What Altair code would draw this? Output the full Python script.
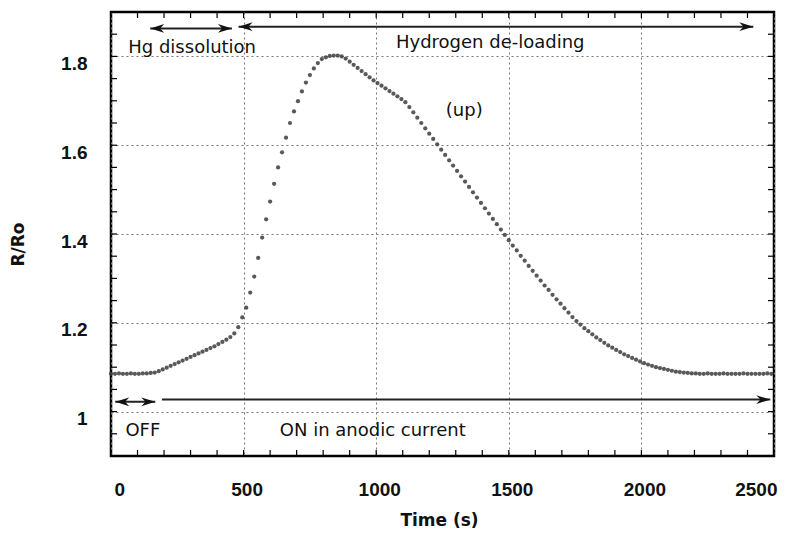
import altair as alt
import pandas as pd

# ---------------- data ----------------
# sampling times (s), one reading every 15 s
time_s = list(range(0, 2491, 15))

# R/Ro readings
r_ro = [
    # 0 - 165 s (OFF)
    1.085, 1.085, 1.086, 1.085, 1.085, 1.086, 1.085, 1.085, 1.086, 1.086, 1.087, 1.088,
    # 180 - 495 s (Hg dissolution)
    1.091, 1.095, 1.099, 1.103, 1.107, 1.111, 1.115, 1.119, 1.123, 1.127, 1.131, 1.135,
    1.139, 1.143, 1.147, 1.152, 1.157, 1.162, 1.168, 1.176, 1.190, 1.212,
    # 510 - 795 s (rise)
    1.234, 1.268, 1.304, 1.346, 1.392, 1.433, 1.473, 1.513, 1.550, 1.584, 1.617, 1.650,
    1.676, 1.699, 1.721, 1.741, 1.758, 1.773, 1.785, 1.794,
    # 810 - 870 s (peak)
    1.798, 1.801, 1.802, 1.802, 1.800,
    # 885 - 1110 s
    1.795, 1.788, 1.781, 1.774, 1.767, 1.760, 1.753, 1.746, 1.740, 1.734, 1.728, 1.722,
    1.716, 1.710, 1.704, 1.697,
    # 1125 - 1485 s
    1.686, 1.674, 1.662, 1.650, 1.638, 1.626, 1.614, 1.602, 1.590, 1.578, 1.566, 1.554,
    1.542, 1.530, 1.518, 1.506, 1.494, 1.482, 1.470, 1.458, 1.446, 1.434, 1.422, 1.410, 1.398,
    # 1500 - 2205 s
    1.386, 1.374, 1.363, 1.351, 1.340, 1.328, 1.317, 1.306, 1.295, 1.284, 1.274, 1.263,
    1.253, 1.243, 1.233, 1.223, 1.213, 1.204, 1.196, 1.188, 1.181, 1.174, 1.167, 1.161,
    1.155, 1.149, 1.144, 1.139, 1.134, 1.129, 1.125, 1.121, 1.117, 1.113, 1.109, 1.106,
    1.103, 1.100, 1.098, 1.096, 1.094, 1.092, 1.090, 1.089, 1.088, 1.087, 1.086, 1.086,
    # 2220 - 2490 s
    1.085, 1.085, 1.086, 1.085, 1.085, 1.085, 1.086, 1.085, 1.085, 1.085, 1.085, 1.086,
    1.085, 1.085, 1.085, 1.085, 1.085, 1.086, 1.085,
]

x_major = [0, 500, 1000, 1500, 2000, 2500]
y_major = [1, 1.2, 1.4, 1.6, 1.8]
x_minor = list(range(0, 2501, 100))
y_minor = [round(0.9 + 0.05 * i, 2) for i in range(21)]

# annotation texts
ann_text = ["Hg dissolution", "Hydrogen de-loading", "(up)", "OFF", "ON in anodic current"]
ann_t = [306, 1430, 1332, 120, 987]
ann_v = [1.808, 1.819, 1.666, 0.944, 0.945]

# arrow shafts
arr_t1 = [148, 481, 16, 192]
arr_t2 = [456, 2422, 167, 2486]
arr_v = [1.863, 1.867, 1.022, 1.027]

# arrow heads (tip positions)
head_t = [148, 456, 481, 2422, 16, 167, 2486]
head_v = [1.863, 1.863, 1.867, 1.867, 1.022, 1.022, 1.027]
head_dir = ["l", "r", "l", "r", "l", "r", "r"]

# ---------------- chart ----------------
W, H = 663, 444

df = pd.DataFrame([{"t": t, "v": v} for t, v in zip(time_s, r_ro)])
xt_df = pd.DataFrame({"t": x_minor})
yt_df = pd.DataFrame({"v": y_minor})
ann_df = pd.DataFrame({"label": ann_text, "t": ann_t, "v": ann_v})
arr_df = pd.DataFrame({"t": arr_t1, "t2": arr_t2, "v": arr_v})
head_df = pd.DataFrame({"t": head_t, "v": head_v, "dir": head_dir})

xs = alt.Scale(domain=[0, 2500], nice=False, zero=False)
ys = alt.Scale(domain=[0.9, 1.9], nice=False, zero=False)

LABEL_FONT = "Liberation Sans"
TITLE_FONT = "DejaVu Sans"

xaxis = alt.Axis(
    values=x_major, format="d", grid=True, gridDash=[2, 3], gridColor="#777",
    gridWidth=1, ticks=False, tickSize=0, domain=False,
    labelFont=LABEL_FONT, labelFontSize=19, labelFontWeight="bold", labelColor="#111",
    labelPadding=24, labelOffset=3,
    title="Time (s)", titleFont=TITLE_FONT, titleFontSize=17, titleFontWeight="bold",
    titleColor="#111", titleX=328, titleY=64, titleBaseline="middle", titleAlign="center",
)
yaxis = alt.Axis(
    values=y_major, format="~g", grid=True, gridDash=[2, 3], gridColor="#777",
    gridWidth=1, ticks=False, tickSize=0, domain=False,
    labelFont=LABEL_FONT, labelFontSize=19, labelFontWeight="bold", labelColor="#111",
    labelPadding=24, labelOffset=7,
    title="R/Ro", titleFont=TITLE_FONT, titleFontSize=17, titleFontWeight="bold",
    titleColor="#111", titleAngle=270, titleX=-93, titleY=232,
    titleBaseline="middle", titleAlign="center",
)

X = alt.X("t:Q", scale=xs, axis=xaxis)
Y = alt.Y("v:Q", scale=ys, axis=yaxis)

points = alt.Chart(df).mark_circle(size=18, color="#3c3c3c", opacity=0.85).encode(x=X, y=Y)

tick_style = dict(color="black", strokeWidth=1.2)
bottom_ticks = alt.Chart(xt_df).mark_rule(**tick_style).encode(
    x=X, y=alt.value(H), y2=alt.value(H - 6))
top_ticks = alt.Chart(xt_df).mark_rule(**tick_style).encode(
    x=X, y=alt.value(0), y2=alt.value(6))
left_ticks = alt.Chart(yt_df).mark_rule(**tick_style).encode(
    y=Y, x=alt.value(0), x2=alt.value(6))
right_ticks = alt.Chart(yt_df).mark_rule(**tick_style).encode(
    y=Y, x=alt.value(W), x2=alt.value(W - 6))

shafts = alt.Chart(arr_df).mark_rule(color="#222", strokeWidth=2).encode(
    x=X, x2="t2:Q", y=Y)

path_r = "M0,0L-2,-0.62L-1.4,0L-2,0.62Z"
path_l = "M0,0L2,-0.62L1.4,0L2,0.62Z"
heads = alt.Chart(head_df).mark_point(
    filled=True, size=196, color="#111", opacity=1, strokeWidth=0
).encode(
    x=X, y=Y,
    shape=alt.Shape("dir:N", scale=alt.Scale(domain=["r", "l"], range=[path_r, path_l]),
                    legend=None),
)

texts = alt.Chart(ann_df).mark_text(
    font=TITLE_FONT, fontSize=18, baseline="alphabetic", align="center", color="#111"
).encode(x=X, y=Y, text="label:N")

chart = alt.layer(
    points, bottom_ticks, top_ticks, left_ticks, right_ticks, shafts, heads, texts
).properties(
    width=W, height=H,
    padding={"left": 111, "top": 12, "right": 29, "bottom": 77},
    autosize=alt.AutoSizeParams(type="none"),
    background="white",
).configure_view(stroke="black", strokeWidth=2.5)

chart.save("out.html", embed_options={"renderer": "svg", "actions": False})
